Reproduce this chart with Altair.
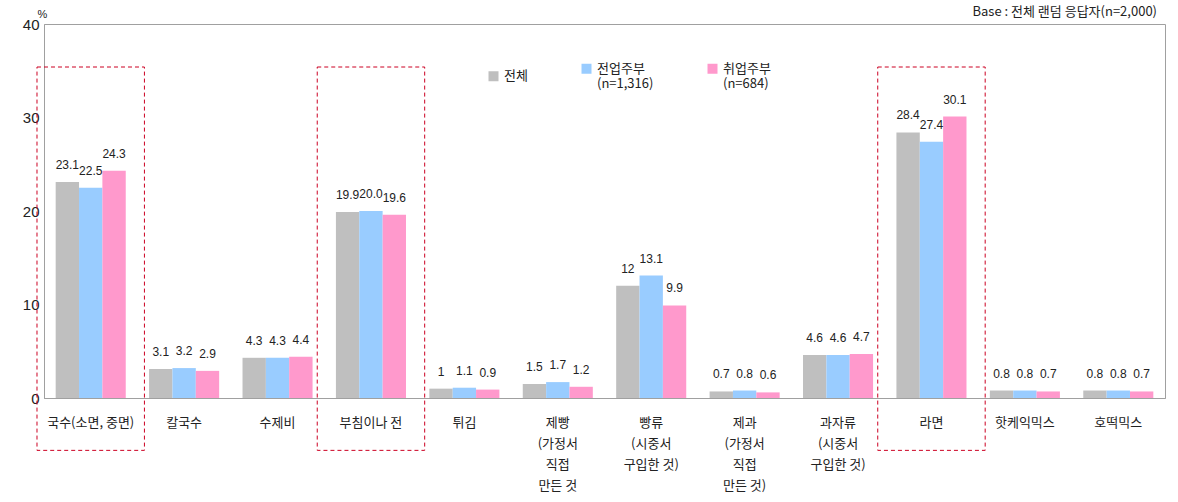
import altair as alt
import pandas as pd

categories = ["국수(소면, 중면)", "칼국수", "수제비", "부침이나 전", "튀김",
              "제빵\n(가정서\n직접\n만든 것", "빵류\n(시중서\n구입한 것)",
              "제과\n(가정서\n직접\n만든 것)", "과자류\n(시중서\n구입한 것)",
              "라면", "핫케익믹스", "호떡믹스"]
series = ["전체", "전업주부\n(n=1,316)", "취업주부\n(n=684)"]
colors = ["#BFBFBF", "#99CCFF", "#FF99CC"]
total = [23.1, 3.1, 4.3, 19.9, 1, 1.5, 12, 0.7, 4.6, 28.4, 0.8, 0.8]
fulltime = [22.5, 3.2, 4.3, 20.0, 1.1, 1.7, 13.1, 0.8, 4.6, 27.4, 0.8, 0.8]
working = [24.3, 2.9, 4.4, 19.6, 0.9, 1.2, 9.9, 0.6, 4.7, 30.1, 0.7, 0.7]
highlighted = ["국수(소면, 중면)", "부침이나 전", "라면"]
box_top = 35.4
box_bottom = -5.6

rows = []
for s, vals in zip(series, [total, fulltime, working]):
    for c, v in zip(categories, vals):
        rows.append({"cat": c, "series": s, "value": v, "label": str(v)})
df = pd.DataFrame(rows)
boxes = pd.DataFrame({"cat": highlighted, "top": [box_top] * 3, "bottom": [box_bottom] * 3})

KR = "Noto Sans CJK KR"
NUM = "Liberation Sans"

yscale = alt.Scale(domain=[0, 40], nice=False)
xenc = alt.X("cat:N", sort=categories,
             scale=alt.Scale(paddingInner=0, paddingOuter=0),
             axis=alt.Axis(title=None, labelAngle=0, ticks=False, domainColor="#A0A0A0",
                           labelFont=KR, labelFontSize=13, labelColor="#222",
                           labelPadding=18, labelLineHeight=21, labelLimit=200,
                           labelExpr="split(datum.label, '\\n')"))
xoff = alt.XOffset("series:N", sort=series, scale=alt.Scale(paddingOuter=0.5, paddingInner=0))

bars = alt.Chart(df).mark_bar().encode(
    x=xenc,
    xOffset=xoff,
    y=alt.Y("value:Q", scale=yscale,
            axis=alt.Axis(values=[0, 10, 20, 30, 40], grid=False, ticks=False,
                          domainColor="#A0A0A0", labelFont=NUM, labelFontSize=15,
                          labelColor="#222", labelPadding=5,
                          title="%", titleAngle=0, titleFont=NUM, titleFontSize=11,
                          titleFontWeight="normal", titleX=-2, titleY=-5,
                          titleAlign="center", titleColor="#222")),
    color=alt.Color("series:N", sort=series, scale=alt.Scale(domain=series, range=colors),
                    legend=alt.Legend(title=None, orient="none", legendX=443, legendY=38,
                                      direction="horizontal", symbolType="square",
                                      symbolSize=100, symbolStrokeWidth=0,
                                      labelFont=KR, labelFontSize=13, labelColor="#222",
                                      labelExpr="split(datum.label, '\\n')",
                                      columnPadding=52, labelLimit=200)),
)

texts = alt.Chart(df).mark_text(baseline="bottom", dy=-10, font=NUM, fontSize=12,
                                color="#222").encode(
    x=alt.X("cat:N", sort=categories),
    xOffset=xoff,
    y=alt.Y("value:Q", scale=yscale),
    text="label:N",
)

box = alt.Chart(boxes).mark_bar(fillOpacity=0, stroke="#CC0022", strokeDash=[4, 3],
                                strokeWidth=1, width={"band": 1.15}, clip=False).encode(
    x=alt.X("cat:N", sort=categories),
    y=alt.Y("top:Q", scale=yscale),
    y2="bottom:Q",
)

chart = alt.layer(bars, texts, box).properties(
    width=1121, height=374,
    autosize=alt.AutoSizeParams(type="none"),
    padding={"left": 44, "top": 24, "right": 13, "bottom": 104},
    title=alt.TitleParams("Base : 전체 랜덤 응답자(n=2,000)", anchor="end", font=KR,
                          fontSize=13, fontWeight="normal", color="#222", offset=6, dx=-8,
                          dy=17, frame="group"),
).configure_view(stroke="#A0A0A0")

chart.save("out.html", embed_options={"renderer": "svg", "actions": False})
